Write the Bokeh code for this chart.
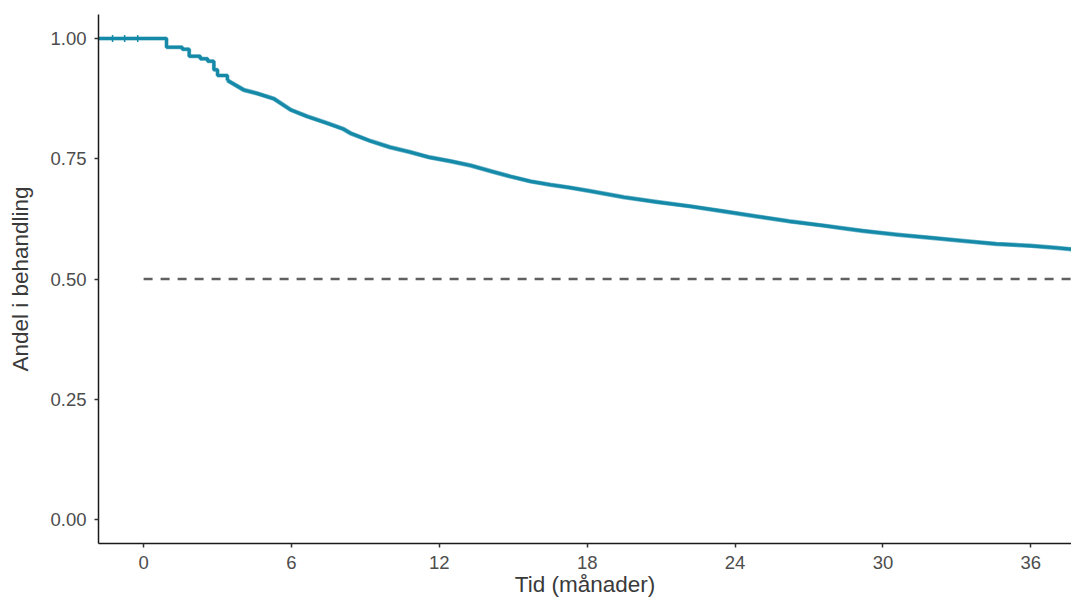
import math
from bokeh.plotting import figure
from bokeh.models import FixedTicker, NumeralTickFormatter, Range1d
from bokeh.embed import file_html
from bokeh.resources import INLINE

# Kaplan-Meier style curve (time in months, share still in treatment)
time_months = [-2.0, 0.93, 1.57, 1.85, 2.3, 2.6, 2.85, 3.0, 3.4, 4.07, 4.6, 5.28, 5.96,
               6.64, 7.45, 8.1, 8.4, 9.2, 10.0, 10.8, 11.6, 12.45, 13.27, 14.1, 14.9,
               15.7, 16.5, 17.3, 18.1, 19.5, 20.85, 22.2, 23.5, 24.9, 26.2, 27.6,
               28.3, 29.2, 30.6, 31.9, 33.3, 34.6, 36.0, 37.0, 37.65]
share_in_treatment = [1.000, 0.982, 0.978, 0.963, 0.958, 0.953, 0.935, 0.923, 0.913, 0.893,
                      0.886, 0.875, 0.852, 0.838, 0.824, 0.812, 0.803, 0.787, 0.774, 0.764,
                      0.753, 0.745, 0.736, 0.724, 0.713, 0.703, 0.696, 0.690, 0.683, 0.670,
                      0.660, 0.651, 0.641, 0.630, 0.620, 0.611, 0.606, 0.600, 0.592, 0.586,
                      0.579, 0.573, 0.569, 0.565, 0.562]
censor_times = [-1.26, -0.77, -0.24]
censor_share = [1.0, 1.0, 1.0]

median_level = 0.5
median_line_start = 0.0

x_ticks = [0, 6, 12, 18, 24, 30, 36]
y_ticks = [0.0, 0.25, 0.5, 0.75, 1.0]

x_title = "Tid (månader)"
y_title = "Andel i behandling"

x_min, x_max = -1.83, 37.65
y_min, y_max = -0.05, 1.05

curve_color = "#1589A8"
font = "Liberation Sans"

# early part drawn as clear steps, the long tail (many tiny steps) as a continuous trace
split = 8

p = figure(width=1071, height=603, output_backend="svg", toolbar_location=None,
           x_range=Range1d(x_min, x_max), y_range=Range1d(y_min, y_max),
           min_border_left=98, min_border_right=0, min_border_top=14, min_border_bottom=60)
p.outline_line_color = None
p.xgrid.visible = False
p.ygrid.visible = False
p.background_fill_color = "white"
p.border_fill_color = "white"

# reference line at median
p.line([median_line_start, x_max], [median_level, median_level], line_color="#606060",
       line_width=2.4, line_dash="9 8")

p.step(time_months[:split + 1], share_in_treatment[:split + 1], mode="after",
       line_color=curve_color, line_width=4, line_alpha=0.6)
p.step(time_months[:split + 1], share_in_treatment[:split + 1], mode="after",
       line_color=curve_color, line_width=3)
p.line(time_months[split:], share_in_treatment[split:], line_color=curve_color,
       line_width=4.5, line_alpha=0.6, line_join="round")
p.line(time_months[split:], share_in_treatment[split:], line_color=curve_color,
       line_width=3.2, line_join="round")
p.scatter(censor_times, censor_share, marker="dash", angle=math.pi / 2, size=7,
          line_color=curve_color, line_width=1.5)

for ax in (p.xaxis[0], p.yaxis[0]):
    ax.axis_line_color = "#1a1a1a"
    ax.axis_line_width = 1.5
    ax.major_tick_line_color = "#333333"
    ax.major_tick_line_width = 1.5
    ax.major_tick_in = 0
    ax.major_tick_out = 4
    ax.minor_tick_line_color = None
    ax.major_label_text_font = font
    ax.major_label_text_font_size = "18.5px"
    ax.major_label_text_color = "#4D4D4D"
    ax.axis_label_text_font = font
    ax.axis_label_text_font_size = "22.5px"
    ax.axis_label_text_font_style = "normal"
    ax.axis_label_text_color = "#3a3a3a"

p.xaxis.ticker = FixedTicker(ticks=x_ticks)
p.yaxis.ticker = FixedTicker(ticks=y_ticks)
p.yaxis.formatter = NumeralTickFormatter(format="0.00")
p.xaxis.axis_label = x_title
p.yaxis.axis_label = y_title
p.xaxis.major_label_standoff = 8
p.xaxis.axis_label_standoff = 0
p.yaxis.major_label_standoff = 8
p.yaxis.axis_label_standoff = 14

open("out.html", "w").write(file_html(p, INLINE))
